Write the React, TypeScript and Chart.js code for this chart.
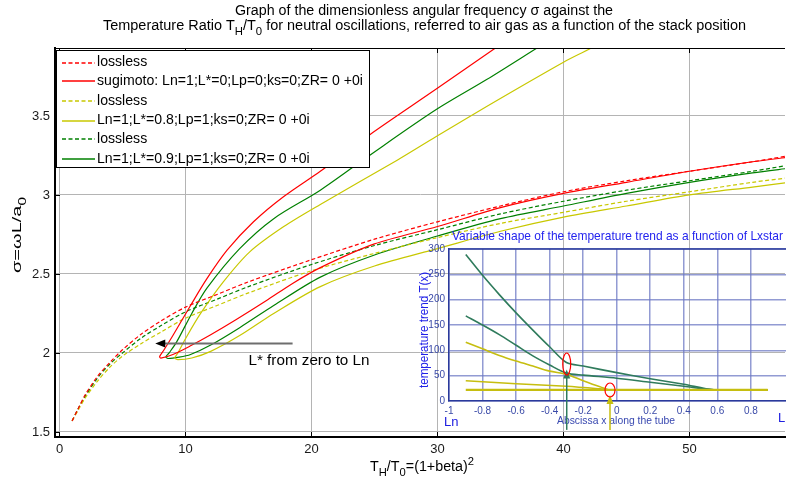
import React, { useEffect, useRef } from 'react';
import { Chart, registerables } from 'chart.js';
Chart.register(...registerables);

const W = 786;
const H = 483;
const FONT = "'Liberation Sans', Arial, sans-serif";

// ---------- main axes ----------
const X_MIN = -0.357;
const X_MAX = 57.58;
const Y_MIN = 1.468;
const Y_MAX = 3.93;
const X_TICKS = [0, 10, 20, 30, 40, 50];
const Y_TICKS = [1.5, 2, 2.5, 3, 3.5];

// lossless (dashed) curves
const LOSSLESS_X = [1, 1.5, 2, 3, 4, 5, 6.5, 8, 10, 12.5, 15, 20, 25, 30, 35, 40, 45, 50, 55, 58];
const RED_LOSSLESS = [1.57, 1.65, 1.73, 1.85, 1.94, 2.02, 2.12, 2.2, 2.29, 2.37, 2.45, 2.59, 2.72, 2.83, 2.93, 3.02, 3.09, 3.15, 3.21, 3.25];
const YELLOW_LOSSLESS = [1.57, 1.64, 1.71, 1.82, 1.91, 1.98, 2.06, 2.13, 2.22, 2.3, 2.38, 2.52, 2.63, 2.73, 2.82, 2.89, 2.96, 3.02, 3.08, 3.11];
const GREEN_LOSSLESS = [1.57, 1.65, 1.72, 1.84, 1.93, 2.0, 2.095, 2.17, 2.26, 2.34, 2.42, 2.56, 2.68, 2.78, 2.88, 2.96, 3.03, 3.09, 3.15, 3.19];

// loop-shaped (solid) curves: upper branch -> nose -> lower branch
const RED_X = [35.5, 34.6, 29.9, 24.6, 20.7, 17.8, 15.4, 13.3, 11.7, 10.4, 9.0, 8.3, 7.95, 8.05, 9.0, 10.4, 12.0, 14.0, 16.4, 18.5, 20.7, 25, 30, 35, 40, 45, 50, 55, 58];
const RED_Y = [3.98, 3.93, 3.67, 3.38, 3.15, 2.99, 2.83, 2.65, 2.47, 2.3, 2.11, 2.02, 1.977, 1.967, 1.99, 2.045, 2.115, 2.21, 2.33, 2.44, 2.54, 2.69, 2.8, 2.92, 3.01, 3.08, 3.15, 3.21, 3.24];
const YELLOW_X = [43, 42.2, 40, 33.9, 29.9, 26.8, 20.7, 17.8, 15.1, 13.0, 11.2, 10.0, 9.4, 9.15, 9.4, 10.5, 12, 14.3, 17, 20.7, 25, 30, 35, 40, 45, 50, 55, 58];
const YELLOW_Y = [3.97, 3.93, 3.84, 3.56, 3.37, 3.22, 2.94, 2.8, 2.64, 2.45, 2.25, 2.09, 2.0, 1.968, 1.958, 1.968, 2.01, 2.11, 2.25, 2.42, 2.55, 2.66, 2.77, 2.86, 2.93, 3.0, 3.05, 3.08];
const GREEN_X = [38.7, 37.9, 33.9, 29.9, 24.6, 20.7, 17.0, 14.3, 11.7, 10.5, 9.3, 8.7, 8.45, 8.6, 9.5, 10.4, 12, 14.3, 17, 20.7, 25, 30, 35, 40, 45, 50, 55, 58];
const GREEN_Y = [3.97, 3.93, 3.73, 3.54, 3.25, 3.03, 2.85, 2.66, 2.41, 2.25, 2.07, 2.0, 1.975, 1.965, 1.973, 1.99, 2.05, 2.16, 2.3, 2.48, 2.62, 2.74, 2.85, 2.93, 3.01, 3.08, 3.14, 3.17];

const LEGEND_LABELS = [
  'lossless',
  'sugimoto: Ln=1;L*=0;Lp=0;ks=0;ZR= 0 +0i',
  'lossless',
  'Ln=1;L*=0.8;Lp=1;ks=0;ZR= 0 +0i',
  'lossless',
  'Ln=1;L*=0.9;Lp=1;ks=0;ZR= 0 +0i',
];

const RED = '#ff0000';
const YELLOW = '#c8c800';
const GREEN = '#008000';
const LEGEND_COLORS = [RED, RED, YELLOW, YELLOW, GREEN, GREEN];
const LEGEND_DASHED = [true, false, true, false, true, false];

// annotation arrow (data coords)
const ARROW_FROM_X = 18.5;
const ARROW_TO_X = 7.6;
const ARROW_Y = 2.065;
const ARROW_TEXT = 'L* from zero to Ln';
const ARROW_TEXT_X = 15.0;
const ARROW_TEXT_Y = 1.946;

// ---------- inset axes ----------
const IN_X_MIN = -1;
const IN_X_MAX = 1.0095;
const IN_Y_MIN = 0;
const IN_Y_MAX = 300;
const IN_X_TICKS = [-1, -0.8, -0.6, -0.4, -0.2, 0, 0.2, 0.4, 0.6, 0.8];
const IN_Y_TICKS = [0, 50, 100, 150, 200, 250, 300];

const IN_G1_X = [-0.9, -0.8, -0.7, -0.6, -0.5, -0.4, -0.3, -0.2, 0, 0.2, 0.4, 0.58, 0.9];
const IN_G1_Y = [289, 248, 210, 174, 140, 107, 76, 69, 56, 44, 33, 22, 22];
const IN_G2_X = [-0.9, -0.8, -0.7, -0.6, -0.5, -0.4, -0.3, -0.2, 0, 0.2, 0.4, 0.58, 0.9];
const IN_G2_Y = [168, 150, 131, 110, 89, 71, 55, 51, 45, 37, 29, 22, 22];
const IN_Y1_X = [-0.9, -0.8, -0.7, -0.6, -0.5, -0.4, -0.3, -0.2, -0.1, -0.04, 0.9];
const IN_Y1_Y = [116, 103, 90, 79, 69, 59, 53, 40, 28, 22, 22];
const IN_Y2_X = [-0.9, -0.6, -0.3, -0.1, -0.04, 0.9];
const IN_Y2_Y = [40, 34, 29, 24, 22, 22];
const IN_Y3_X = [-0.9, 0.9];
const IN_Y3_Y = [22, 22];

const IN_MARK_X = [-0.298, -0.04];
const IN_MARK_Y = [73, 21.7];
const IN_ARROW_TIP_Y = [62, 12];
const IN_ARROW_FOOT_Y = [-57, -57];

const IN_GREEN = '#2f7b5c';
const IN_YELLOW = '#c6be10';

const pts = (xs: number[], ys: number[]) => xs.map((x, i) => ({ x, y: ys[i] }));

type Part = [string, number];
function drawRich(
  ctx: CanvasRenderingContext2D,
  parts: Part[],
  x: number,
  y: number,
  size: number,
  align: 'center' | 'left',
  targetWidth?: number
) {
  const small = Math.round(size * 0.75);
  let total = 0;
  const widths = parts.map(([t, m]) => {
    ctx.font = `${m ? small : size}px ${FONT}`;
    const w = ctx.measureText(t).width;
    total += w;
    return w;
  });
  const sx = targetWidth ? targetWidth / total : 1;
  const start = align === 'center' ? x - (total * sx) / 2 : x;
  ctx.save();
  ctx.translate(start, y);
  ctx.scale(sx, 1);
  ctx.textAlign = 'left';
  ctx.textBaseline = 'alphabetic';
  let cx = 0;
  parts.forEach(([t, m], i) => {
    ctx.font = `${m ? small : size}px ${FONT}`;
    const dy = m === 1 ? size * 0.36 : m === 2 ? -size * 0.42 : 0;
    ctx.fillText(t, cx, dy);
    cx += widths[i];
  });
  ctx.restore();
}

function fitText(ctx: CanvasRenderingContext2D, text: string, x: number, y: number, width: number, size: number) {
  ctx.font = `${size}px ${FONT}`;
  const w = ctx.measureText(text).width;
  ctx.save();
  ctx.translate(x, y);
  ctx.scale(width / w, 1);
  ctx.textAlign = 'left';
  ctx.textBaseline = 'middle';
  ctx.fillText(text, 0, 0);
  ctx.restore();
}

const mainDecor = {
  id: 'mainDecor',
  afterDraw(chart: any) {
    const { ctx, chartArea: ca, scales } = chart;
    const xs = scales.x;
    const ys = scales.y;
    ctx.save();
    // top border
    ctx.strokeStyle = '#000';
    ctx.lineWidth = 1;
    ctx.beginPath();
    ctx.moveTo(ca.left, ca.top + 0.5);
    ctx.lineTo(ca.right, ca.top + 0.5);
    ctx.stroke();
    // inward tick marks
    ctx.beginPath();
    X_TICKS.forEach((v) => {
      const px = Math.round(xs.getPixelForValue(v)) + 0.5;
      ctx.moveTo(px, ca.bottom);
      ctx.lineTo(px, ca.bottom - 5);
      ctx.moveTo(px, ca.top);
      ctx.lineTo(px, ca.top + 5);
    });
    Y_TICKS.forEach((v) => {
      const py = Math.round(ys.getPixelForValue(v)) + 0.5;
      ctx.moveTo(ca.left, py);
      ctx.lineTo(ca.left + 5, py);
    });
    ctx.stroke();

    // title
    ctx.fillStyle = '#000';
    drawRich(ctx, [['Graph of the dimensionless angular frequency \u03c3 against the', 0]], 424, 15, 14, 'center', 378);
    drawRich(
      ctx,
      [
        ['Temperature Ratio T', 0],
        ['H', 1],
        ['/T', 0],
        ['0', 1],
        [' for neutral oscillations, referred to air gas as a function of the stack position', 0],
      ],
      424.5,
      30,
      14,
      'center',
      643
    );
    // x label
    drawRich(ctx, [['T', 0], ['H', 1], ['/T', 0], ['0', 1], ['=(1+beta)', 0], ['2', 2]], 422, 471, 14, 'center', 104);
    // y label
    ctx.save();
    ctx.translate(21, 235);
    ctx.rotate(-Math.PI / 2);
    drawRich(ctx, [['\u03c3=\u03c9L/a', 0], ['0', 1]], 0, 0, 13, 'center', 76);
    ctx.restore();

    // annotation arrow
    const ay = Math.round(ys.getPixelForValue(ARROW_Y)) + 0.5;
    const ax1 = xs.getPixelForValue(ARROW_FROM_X);
    const ax2 = xs.getPixelForValue(ARROW_TO_X);
    ctx.strokeStyle = '#6e6e6e';
    ctx.lineWidth = 2;
    ctx.beginPath();
    ctx.moveTo(ax1, ay);
    ctx.lineTo(ax2 + 8, ay);
    ctx.stroke();
    ctx.fillStyle = '#000';
    ctx.beginPath();
    ctx.moveTo(ax2, ay);
    ctx.lineTo(ax2 + 10, ay - 4);
    ctx.lineTo(ax2 + 10, ay + 4);
    ctx.closePath();
    ctx.fill();
    fitText(ctx, ARROW_TEXT, xs.getPixelForValue(ARROW_TEXT_X), ys.getPixelForValue(ARROW_TEXT_Y), 121, 14);

    // legend
    const lx = 56.5;
    const ly = 50.5;
    const lw = 313;
    const lh = 117;
    ctx.fillStyle = '#fff';
    ctx.fillRect(lx, ly, lw, lh);
    ctx.strokeStyle = '#000';
    ctx.lineWidth = 1;
    ctx.strokeRect(lx, ly, lw, lh);
    ctx.font = `14px ${FONT}`;
    const legScale = 266 / ctx.measureText(LEGEND_LABELS[1]).width;
    LEGEND_LABELS.forEach((label, i) => {
      const ty = 62 + i * 19.4;
      const ry = 2 * Math.floor(ty / 2) + 1;
      ctx.strokeStyle = LEGEND_COLORS[i];
      ctx.lineWidth = 1.5;
      ctx.setLineDash(LEGEND_DASHED[i] ? [4, 2.5] : []);
      ctx.beginPath();
      ctx.moveTo(62, ry);
      ctx.lineTo(95, ry);
      ctx.stroke();
      ctx.setLineDash([]);
      ctx.fillStyle = '#000';
      ctx.save();
      ctx.translate(97, ty);
      ctx.scale(legScale, 1);
      ctx.font = `14px ${FONT}`;
      ctx.textAlign = 'left';
      ctx.textBaseline = 'middle';
      ctx.fillText(label, 0, 0);
      ctx.restore();
    });
    ctx.restore();
  },
};

const insetDecor = {
  id: 'insetDecor',
  afterDraw(chart: any) {
    const { ctx, chartArea: ca, scales } = chart;
    const xs = scales.x;
    const ys = scales.y;
    ctx.save();
    // top border
    ctx.strokeStyle = '#2a3a9c';
    ctx.lineWidth = 1.5;
    ctx.beginPath();
    ctx.moveTo(ca.left, ca.top);
    ctx.lineTo(ca.right, ca.top);
    ctx.stroke();

    // title
    ctx.fillStyle = '#2424ee';
    fitText(ctx, 'Variable shape of the temperature trend as a function of Lxstar', 452, 236, 331, 13);
    // y label
    ctx.save();
    ctx.translate(424, 388);
    ctx.rotate(-Math.PI / 2);
    ctx.fillStyle = '#2020e8';
    fitText(ctx, 'temperature trend T(x)', 0, 0, 116, 13);
    ctx.restore();
    // x label
    ctx.fillStyle = '#3848b0';
    fitText(ctx, 'Abscissa x along the tube', 557, 421, 118, 11);
    // Ln / Lp
    ctx.fillStyle = '#2020e0';
    ctx.font = `13px ${FONT}`;
    ctx.textAlign = 'left';
    ctx.textBaseline = 'middle';
    ctx.fillText('Ln', 444, 422);
    ctx.fillText('Lp', 778, 418);

    // arrows
    const arrowColors = [IN_GREEN, IN_YELLOW];
    IN_MARK_X.forEach((mx, i) => {
      const px = xs.getPixelForValue(mx);
      const tip = ys.getPixelForValue(IN_ARROW_TIP_Y[i]);
      const foot = ys.getPixelForValue(IN_ARROW_FOOT_Y[i]);
      ctx.strokeStyle = arrowColors[i];
      ctx.fillStyle = arrowColors[i];
      ctx.lineWidth = 1.5;
      ctx.beginPath();
      ctx.moveTo(px, foot);
      ctx.lineTo(px, tip + 6);
      ctx.stroke();
      ctx.beginPath();
      ctx.moveTo(px, tip);
      ctx.lineTo(px - 3.5, tip + 9);
      ctx.lineTo(px + 3.5, tip + 9);
      ctx.closePath();
      ctx.fill();
    });
    // red ellipses
    const radii = [
      [4, 11],
      [5, 7],
    ];
    ctx.strokeStyle = '#ff0000';
    ctx.lineWidth = 1.2;
    IN_MARK_X.forEach((mx, i) => {
      ctx.beginPath();
      ctx.ellipse(xs.getPixelForValue(mx), ys.getPixelForValue(IN_MARK_Y[i]), radii[i][0], radii[i][1], 0, 0, Math.PI * 2);
      ctx.stroke();
    });
    ctx.restore();
  },
};

export default function App() {
  const mainRef = useRef<HTMLCanvasElement>(null);
  const insetRef = useRef<HTMLCanvasElement>(null);

  useEffect(() => {
    const lineDs = (label: string, data: any[], color: string, dashed: boolean) => ({
      label,
      data,
      showLine: true,
      borderColor: color,
      backgroundColor: color,
      borderWidth: 1.2,
      borderDash: dashed ? [4, 2.5] : [],
      pointRadius: 0,
      tension: 0.3,
      fill: false,
      clip: 0,
    });

    const main = new Chart(mainRef.current as HTMLCanvasElement, {
      type: 'scatter',
      data: {
        datasets: [
          lineDs(LEGEND_LABELS[0], pts(LOSSLESS_X, RED_LOSSLESS), RED, true),
          lineDs(LEGEND_LABELS[1], pts(RED_X, RED_Y), RED, false),
          lineDs(LEGEND_LABELS[2], pts(LOSSLESS_X, YELLOW_LOSSLESS), YELLOW, true),
          lineDs(LEGEND_LABELS[3], pts(YELLOW_X, YELLOW_Y), YELLOW, false),
          lineDs(LEGEND_LABELS[4], pts(LOSSLESS_X, GREEN_LOSSLESS), GREEN, true),
          lineDs(LEGEND_LABELS[5], pts(GREEN_X, GREEN_Y), GREEN, false),
        ] as any,
      },
      options: {
        responsive: false,
        animation: false,
        devicePixelRatio: 1,
        events: [],
        layout: { padding: { top: 48, right: 1, left: 0, bottom: 0 } },
        plugins: { legend: { display: false }, title: { display: false }, tooltip: { enabled: false } },
        scales: {
          x: {
            type: 'linear',
            min: X_MIN,
            max: X_MAX,
            afterBuildTicks: (s: any) => {
              s.ticks = X_TICKS.map((v) => ({ value: v }));
            },
            afterFit: (s: any) => {
              s.height = 46;
            },
            grid: { color: '#b4b4b4', lineWidth: 1, drawTicks: false },
            border: { color: '#000', width: 2 },
            ticks: {
              font: { family: FONT, size: 13 },
              color: '#1a1a1a',
              padding: 5,
              maxRotation: 0,
              autoSkip: false,
              callback: (v: any) => String(v),
            },
          },
          y: {
            type: 'linear',
            min: Y_MIN,
            max: Y_MAX,
            afterBuildTicks: (s: any) => {
              s.ticks = Y_TICKS.map((v) => ({ value: v }));
            },
            afterFit: (s: any) => {
              s.width = 55;
            },
            grid: { color: '#b4b4b4', lineWidth: 1, drawTicks: false },
            border: { color: '#000', width: 2 },
            ticks: {
              font: { family: FONT, size: 13 },
              color: '#1a1a1a',
              padding: 5,
              autoSkip: false,
              callback: (v: any) => String(v),
            },
          },
        },
      } as any,
      plugins: [mainDecor],
    });

    const inLine = (data: any[], color: string, width: number) => ({
      data,
      showLine: true,
      borderColor: color,
      backgroundColor: color,
      borderWidth: width,
      pointRadius: 0,
      tension: 0.3,
      fill: false,
      clip: 0,
    });

    const inset = new Chart(insetRef.current as HTMLCanvasElement, {
      type: 'scatter',
      data: {
        datasets: [
          inLine(pts(IN_Y3_X, IN_Y3_Y), IN_YELLOW, 2.2),
          inLine(pts(IN_Y2_X, IN_Y2_Y), IN_YELLOW, 1.6),
          inLine(pts(IN_Y1_X, IN_Y1_Y), IN_YELLOW, 1.6),
          inLine(pts(IN_G2_X, IN_G2_Y), IN_GREEN, 1.6),
          inLine(pts(IN_G1_X, IN_G1_Y), IN_GREEN, 1.6),
        ] as any,
      },
      options: {
        responsive: false,
        animation: false,
        devicePixelRatio: 1,
        events: [],
        layout: { padding: { top: 249, right: 0, left: 419, bottom: 52 } },
        plugins: { legend: { display: false }, title: { display: false }, tooltip: { enabled: false } },
        scales: {
          x: {
            type: 'linear',
            min: IN_X_MIN,
            max: IN_X_MAX,
            afterBuildTicks: (s: any) => {
              s.ticks = IN_X_TICKS.map((v) => ({ value: v }));
            },
            afterFit: (s: any) => {
              s.height = 30;
            },
            grid: { color: 'rgba(110,122,196,0.75)', lineWidth: 1.5, drawTicks: false },
            border: { color: '#2a3a9c', width: 1.5 },
            ticks: {
              font: { family: FONT, size: 10 },
              color: '#3a4aa8',
              padding: 4,
              maxRotation: 0,
              autoSkip: false,
              callback: (v: any) => String(Math.round(v * 10) / 10),
            },
          },
          y: {
            type: 'linear',
            min: IN_Y_MIN,
            max: IN_Y_MAX,
            afterBuildTicks: (s: any) => {
              s.ticks = IN_Y_TICKS.map((v) => ({ value: v }));
            },
            afterFit: (s: any) => {
              s.width = 30;
            },
            grid: { color: 'rgba(110,122,196,0.75)', lineWidth: 1.5, drawTicks: false },
            border: { color: '#2a3a9c', width: 1.5 },
            ticks: {
              font: { family: FONT, size: 10 },
              color: '#3a4aa8',
              padding: 4,
              autoSkip: false,
              callback: (v: any) => String(v),
            },
          },
        },
      } as any,
      plugins: [insetDecor],
    });

    return () => {
      main.destroy();
      inset.destroy();
    };
  }, []);

  return (
    <div style={{ position: 'absolute', left: 0, top: 0, width: W, height: H, background: '#fff', overflow: 'hidden' }}>
      <canvas ref={mainRef} width={W} height={H} style={{ position: 'absolute', left: 0, top: 0, width: W, height: H }} />
      <canvas
        ref={insetRef}
        width={W}
        height={H}
        style={{ position: 'absolute', left: 0, top: 0, width: W, height: H, pointerEvents: 'none' }}
      />
    </div>
  );
}
